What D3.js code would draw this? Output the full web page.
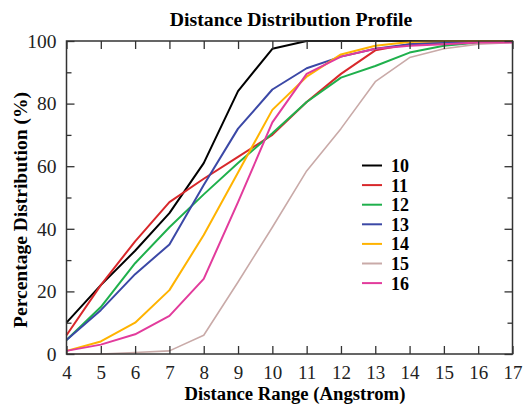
<!DOCTYPE html>
<html>
<head>
<meta charset="utf-8">
<script src="https://cdn.jsdelivr.net/npm/d3@7.9.0/dist/d3.min.js"></script>
<style>
  body { margin: 0; background: #fff; }
</style>
</head>
<body>
<svg id="chart" width="525" height="404" font-family="'Liberation Serif', 'Times New Roman', Times, serif"></svg>
<script>
// distance range (Angstrom)
const distances = [4, 5, 6, 7, 8, 9, 10, 11, 12, 13, 14, 15, 16, 17];
const seriesNames = ['10', '11', '12', '13', '14', '15', '16'];
const seriesColors = ['#000000', '#d8282b', '#1fb04c', '#3b48a6', '#ffb300', '#c9aaa8', '#e23b9c'];

const s10 = [10, 22, 33, 45, 61, 84, 97.5, 100, 100, 100, 100, 100, 100, 100];
const s11 = [6, 22, 36, 48.5, 56, 63, 70, 80.5, 89.5, 97, 99, 99.5, 100, 100];
const s12 = [4.5, 15, 29, 40.5, 51, 61, 70.5, 80.5, 88.3, 92, 96.3, 98.5, 99.5, 100];
const s13 = [4.5, 14, 25.5, 35, 54, 72, 84.5, 91.3, 95, 97.5, 99, 99.5, 99.8, 100];
const s14 = [1, 4, 10, 20.4, 38, 58, 78, 88.6, 95.7, 98.5, 99.7, 100, 100, 100];
const s15 = [0, 0, 0.5, 1, 6, 23, 40.5, 58.5, 72, 87, 94.7, 97.5, 99, 99.5];
const s16 = [1, 3, 6.3, 12.2, 24, 48.5, 74, 89.5, 95, 97.5, 98.5, 99, 99.5, 99.5];
const allSeries = [s10, s11, s12, s13, s14, s15, s16];

const margin = { left: 66.5, right: 12.5, top: 41, bottom: 50 };
const W = 525, H = 404;
const svg = d3.select('#chart');
const FONT = "'Liberation Serif', 'Times New Roman', Times, serif";

const x = d3.scaleLinear().domain([4, 17]).range([margin.left, W - margin.right]);
const y = d3.scaleLinear().domain([0, 100]).range([H - margin.bottom, margin.top]);

const line = d3.line().x((d, i) => x(distances[i])).y(d => y(d));

// lines
allSeries.forEach((vals, i) => {
  svg.append('path')
    .attr('d', line(vals))
    .attr('fill', 'none')
    .attr('stroke', seriesColors[i])
    .attr('stroke-width', i === 5 ? 1.6 : 2)
    .attr('stroke-linejoin', 'round');
});

// axes with inward ticks
const xTicks = d3.range(4, 18);
const yMajor = d3.range(0, 101, 20);
const yMinor = d3.range(10, 100, 20);

svg.append('g')
  .attr('transform', `translate(0,${y(0)})`)
  .call(d3.axisBottom(x).tickValues(xTicks).tickSize(-8).tickPadding(12).tickFormat(d3.format('d')))
  .call(g => g.select('.domain').remove())
  .call(g => g.selectAll('text').attr('font-size', 19));

svg.append('g')
  .attr('transform', `translate(0,${y(100)})`)
  .call(d3.axisTop(x).tickValues(xTicks).tickSize(-8).tickFormat(''))
  .call(g => g.select('.domain').remove());

svg.append('g')
  .attr('transform', `translate(${x(4)},0)`)
  .call(d3.axisLeft(y).tickValues(yMajor).tickSize(-8).tickPadding(10))
  .call(g => g.select('.domain').remove())
  .call(g => g.selectAll('text').attr('font-size', 19.5));

svg.append('g')
  .attr('transform', `translate(${x(4)},0)`)
  .call(d3.axisLeft(y).tickValues(yMinor).tickSize(-5).tickFormat(''))
  .call(g => g.select('.domain').remove());

svg.append('g')
  .attr('transform', `translate(${x(17)},0)`)
  .call(d3.axisRight(y).tickValues(yMajor).tickSize(-8).tickFormat(''))
  .call(g => g.select('.domain').remove());

svg.append('g')
  .attr('transform', `translate(${x(17)},0)`)
  .call(d3.axisRight(y).tickValues(yMinor).tickSize(-5).tickFormat(''))
  .call(g => g.select('.domain').remove());

svg.selectAll('.tick line').attr('stroke', '#333').attr('stroke-width', 1.3);
svg.selectAll('g').attr('font-family', FONT);
svg.selectAll('.tick text').attr('fill', '#222');

// frame
svg.append('rect')
  .attr('x', x(4)).attr('y', y(100))
  .attr('width', x(17) - x(4)).attr('height', y(0) - y(100))
  .attr('fill', 'none').attr('stroke', '#333').attr('stroke-width', 1.5);

// titles
svg.append('text')
  .attr('x', 291).attr('y', 26)
  .attr('text-anchor', 'middle')
  .attr('font-size', 19.8).attr('font-weight', 'bold')
  .text('Distance Distribution Profile');

svg.append('text')
  .attr('x', 295).attr('y', 400)
  .attr('text-anchor', 'middle')
  .attr('font-size', 18.7).attr('font-weight', 'bold')
  .text('Distance Range (Angstrom)');

svg.append('text')
  .attr('transform', `translate(27,210) rotate(-90)`)
  .attr('text-anchor', 'middle')
  .attr('font-size', 19.5).attr('font-weight', 'bold')
  .text('Percentage Distribution (%)');

// legend
const legend = svg.append('g').attr('transform', 'translate(362,165.5)');
seriesNames.forEach((name, i) => {
  const row = legend.append('g').attr('transform', `translate(0,${i * 19.6})`);
  row.append('line')
    .attr('x1', 0).attr('x2', 20)
    .attr('stroke', seriesColors[i]).attr('stroke-width', 2);
  row.append('text')
    .attr('x', 29).attr('y', 6.5)
    .attr('font-size', 18).attr('font-weight', 'bold')
    .text(name);
});
</script>
</body>
</html>
